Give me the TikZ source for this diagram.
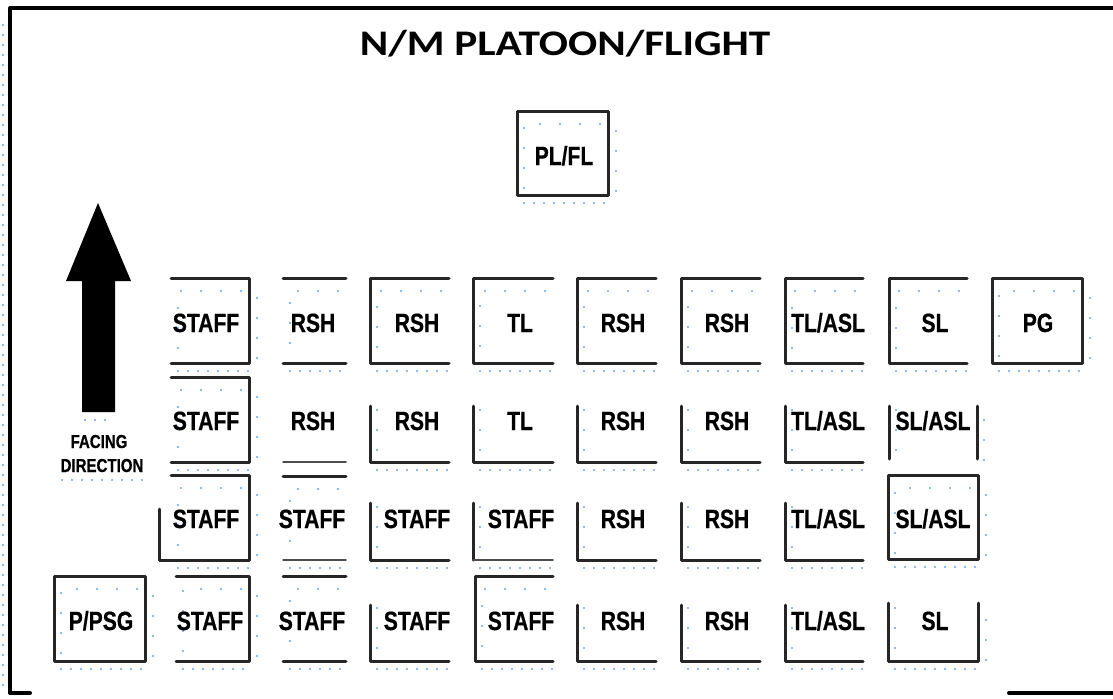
\documentclass[tikz,border=0pt]{standalone}
\usepackage{fontspec}
\newfontfamily\titlefont[FakeStretch=1.2]{Carlito}
\newfontfamily\lblfont[FakeStretch=0.8,BoldFeatures={FakeBold=0.6}]{Liberation Sans}
\definecolor{guideblue}{RGB}{110,160,230}
\tikzset{
  wall/.style={line width=0.6mm,draw=black!85},
  thin wall/.style={line width=0.3mm,draw=black!70},
  guide/.style={guideblue,line width=0.45mm,dash pattern=on 0pt off 2mm,line cap=round},
  sparse/.style={dash pattern=on 0pt off 4mm},
  lbl/.style={font=\lblfont\bfseries\fontsize{15}{15}\selectfont,inner sep=0pt,anchor=base},
  small lbl/.style={font=\lblfont\bfseries\fontsize{10.7}{10.7}\selectfont,inner sep=0pt,anchor=base},
}
\newcommand\guidebox[4]{%
  \draw[guide,sparse] (#3-8,#2+13) -- (#1+7,#2+13) -- (#1+7,#4-4);
  \draw[guide] (#1+7,#4+8) -- (#3+2,#4+8);}
\newcommand\guidel[4]{%
  \draw[guide,sparse] (#1+7,#2) -- (#1+7,#4-4);
  \draw[guide] (#1+7,#4+8) -- (#3+2,#4+8);}
\newcommand\guider[3]{\draw[guide,sparse] (#1+8,#2+20) -- (#1+8,#3+4);}

\begin{document}
\begin{tikzpicture}[x=0.2mm,y=-0.2mm,line cap=round,line join=round]
  \useasboundingbox (0,0) rectangle (1113,698);
  \draw[line width=0.8mm] (1113,8) -- (10,8) -- (10,693) -- (30,693);
  \draw[line width=0.8mm] (1009,693) -- (1113,693);
  \draw[guide] (3,25) -- (3,690);
  \node[font=\titlefont\bfseries\fontsize{20.5}{20.5}\selectfont,inner sep=0pt,anchor=base] (title) at (565,55) {N/M PLATOON/FLIGHT};

  % facing arrow
  \fill (82,412) -- (82,281) -- (66,281) -- (98,203) -- (131,281) -- (115,281) -- (115,412) -- cycle;
  \draw[guide] (85,420) -- (112,420);
  \node[small lbl] (facing) at (99,448) {FACING};
  \node[small lbl] (direction) at (102,472) {DIRECTION};
  \draw[guide] (62,480) -- (145,480);

  % PL/FL
  \draw[wall] (517,111) rectangle (608,195);
  \guidebox{517}{111}{608}{195}
  \guider{608}{111}{195}
  \node[lbl] (plfl) at (564,165) {PL/FL};

  % row 1
  \draw[wall] (171,278) -- (249,278) -- (249,363) -- (171,363);
  \draw[wall] (283,278) -- (346,278) (283,363) -- (346,363);
  \foreach \a/\b in {370/449,473/553,577/656,681/760,785/863,889/967}
    \draw[wall] (\b,278) -- (\a,278) -- (\a,363) -- (\b,363);
  \draw[wall] (992,278) rectangle (1082,363);
  \foreach \a/\b in {171/249,283/346,370/449,473/553,577/656,681/760,785/863,889/967,992/1082}
    {\guidebox{\a}{278}{\b}{363}}
  \guider{249}{278}{363}
  \guider{1082}{278}{363}

  % row 2
  \draw[wall] (171,377) -- (249,377) -- (249,462) -- (171,462);
  \guidebox{171}{377}{249}{462}
  \guider{249}{377}{462}
  \draw[thin wall] (283,462) -- (346,462);
  \foreach \a/\b in {370/449,473/553,577/656,681/760,785/863}{
    \draw[wall] (\a,406) -- (\a,462) -- (\b,462);
    \guidel{\a}{410}{\b}{462}
  }
  \draw[wall] (889,406) -- (889,459) (977,406) -- (977,459);
  \draw[guide,sparse] (896,410) -- (896,452) (984,420) -- (984,462);

  % row 3
  \draw[wall] (159,509) -- (159,560) -- (249,560) -- (249,475) -- (171,475);
  \guidebox{171}{475}{249}{560}
  \guider{249}{475}{560}
  \draw[wall] (283,476) -- (346,476);
  \draw[thin wall] (283,560) -- (346,560);
  \guidebox{283}{476}{346}{560}
  \draw[wall] (370,503) -- (370,560) -- (449,560);
  \draw[wall] (473,503) -- (473,560);
  \draw[thin wall] (473,560) -- (553,560);
  \foreach \a/\b in {577/656,681/760,785/863}
    \draw[wall] (\a,503) -- (\a,560) -- (\b,560);
  \foreach \a/\b in {370/449,473/553,577/656,681/760,785/863}
    {\guidel{\a}{507}{\b}{560}}
  \draw[wall] (888,475) rectangle (978,559);
  \guidebox{888}{475}{978}{559}
  \guider{978}{475}{559}

  % row 4
  \draw[wall] (54,576) rectangle (145,661);
  \guidebox{54}{576}{145}{661}
  \guider{145}{576}{661}
  \draw[wall] (176,576) -- (249,576) -- (249,661) -- (176,661);
  \draw[wall] (283,576) -- (346,576) (283,661) -- (346,661);
  \draw[wall] (553,576) -- (475,576) -- (475,661) -- (553,661);
  \foreach \a/\b in {176/249,283/346,475/553}
    {\guidebox{\a}{576}{\b}{661}}
  \guider{249}{576}{661}
  \foreach \a/\b in {370/449,577/656,681/760,785/863}{
    \draw[wall] (\a,605) -- (\a,661) -- (\b,661);
    \guidel{\a}{608}{\b}{661}
  }
  \draw[wall] (888,603) -- (888,661) -- (978,661) -- (978,603);
  \guidel{888}{608}{978}{661}
  \guider{978}{600}{661}

  % labels
  \foreach \x/\t/\n in {206/STAFF/1,313/RSH/2,417/RSH/3,520/TL/4,623/RSH/5,727/RSH/6,828/{TL/ASL}/7,935/SL/8,1038/PG/9}
    \node[lbl] (ra\n) at (\x,332) {\t};
  \foreach \x/\t/\n in {206/STAFF/1,313/RSH/2,417/RSH/3,520/TL/4,623/RSH/5,727/RSH/6,828/{TL/ASL}/7,933/{SL/ASL}/8}
    \node[lbl] (rb\n) at (\x,430) {\t};
  \foreach \x/\t/\n in {206/STAFF/1,312/STAFF/2,417/STAFF/3,521/STAFF/4,623/RSH/5,727/RSH/6,828/{TL/ASL}/7,933/{SL/ASL}/8}
    \node[lbl] (rc\n) at (\x,528) {\t};
  \foreach \x/\t/\n in {101/{P/PSG}/0,210/STAFF/1,312/STAFF/2,417/STAFF/3,521/STAFF/4,623/RSH/5,727/RSH/6,828/{TL/ASL}/7,935/SL/8}
    \node[lbl] (rd\n) at (\x,630) {\t};
\end{tikzpicture}
\end{document}
